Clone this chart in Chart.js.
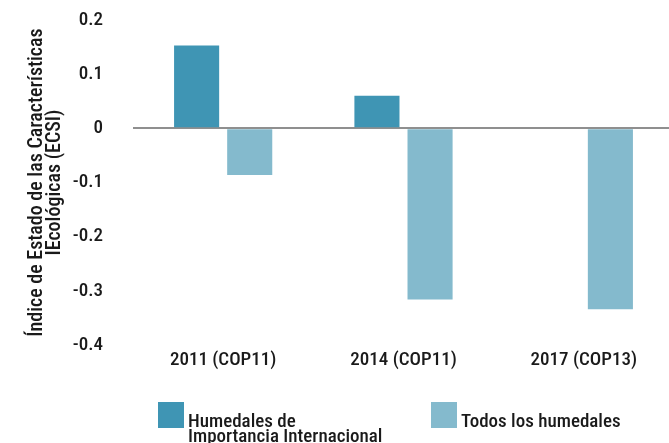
<!DOCTYPE html>
<html>
<head>
<meta charset="utf-8">
<script src="https://cdn.jsdelivr.net/npm/chart.js@4/dist/chart.umd.min.js"></script>
<style>
  html, body { margin: 0; padding: 0; background: #fff; overflow: hidden; }
  #wrap { width: 669px; height: 443px; overflow: hidden; position: relative; }
  #wrap canvas { position: absolute; left: 0; top: 0; }
</style>
</head>
<body>
<div id="wrap"><canvas id="c" width="674" height="443" style="width:674px;height:443px"></canvas></div>
<script>
const categories = ['2011 (COP11)', '2014 (COP11)', '2017 (COP13)'];
const seriesNames = [['Humedales de', 'Importancia Internacional'], ['Todos los humedales']];
const humedalesImportancia = [0.153, 0.060, 0];
const todosHumedales = [-0.086, -0.316, -0.334];
const yTicks = [0.2, 0.1, 0, -0.1, -0.2, -0.3, -0.4];
const yTitle = ['Índice de Estado de las Características', 'IEcológicas (ECSI)'];
const colors = ['#3f95b4', '#84bacd'];

const FONT = "'Roboto Condensed', 'Roboto', sans-serif";
const TXT = '#1a1a1a';
const FS = 19;

const legendPlugin = {
  id: 'customLegend',
  afterDraw(chart) {
    const ctx = chart.ctx;
    const pos = [[158, 188], [431, 461]];
    ctx.save();
    ctx.font = '500 ' + FS + 'px ' + FONT;
    chart.data.datasets.forEach((ds, i) => {
      ctx.fillStyle = ds.backgroundColor;
      ctx.fillRect(pos[i][0], 402, 26, 26);
      ctx.fillStyle = TXT;
      ctx.textBaseline = 'alphabetic';
      ctx.textAlign = 'left';
      seriesNames[i].forEach((line, j) => {
        ctx.fillText(line, pos[i][1], 427 + j * 15);
      });
    });
    ctx.restore();
  }
};

new Chart(document.getElementById('c'), {
  type: 'bar',
  data: {
    labels: categories,
    datasets: [
      { label: seriesNames[0].join(' '), data: humedalesImportancia, backgroundColor: colors[0] },
      { label: seriesNames[1].join(' '), data: todosHumedales, backgroundColor: colors[1] }
    ]
  },
  options: {
    responsive: false,
    animation: false,
    devicePixelRatio: 1,
    layout: { padding: 0 },
    categoryPercentage: 0.589,
    barPercentage: 0.849,
    plugins: { legend: { display: false }, tooltip: { enabled: false } },
    scales: {
      x: {
        grid: { display: false, drawTicks: false },
        border: { display: false },
        ticks: { color: TXT, font: { family: FONT, size: FS, weight: '500' }, padding: 4, maxRotation: 0 },
        afterFit(s) { s.height = 98; s.paddingLeft = 0; s.paddingRight = 0; }
      },
      y: {
        min: -0.4, max: 0.2,
        border: { display: false },
        grid: {
          drawTicks: false,
          color: c => (c.tick && c.tick.value === 0) ? '#8f8f8f' : 'rgba(0,0,0,0)',
          lineWidth: c => (c.tick && c.tick.value === 0) ? 2 : 0
        },
        afterBuildTicks(s) { s.ticks = yTicks.map(v => ({ value: v })); },
        ticks: {
          color: TXT, font: { family: FONT, size: FS, weight: '500' }, padding: 30,
          callback: v => String(Math.round(v * 10) / 10)
        },
        title: {
          display: true, text: yTitle, color: TXT,
          font: { family: FONT, size: 20, weight: '500', lineHeight: 0.9 },
          padding: { top: 28, bottom: 0 }
        },
        afterFit(s) { s.width = 133; s.paddingTop = 20; s.paddingBottom = 0; }
      }
    }
  },
  plugins: [legendPlugin]
});
</script>
</body>
</html>
